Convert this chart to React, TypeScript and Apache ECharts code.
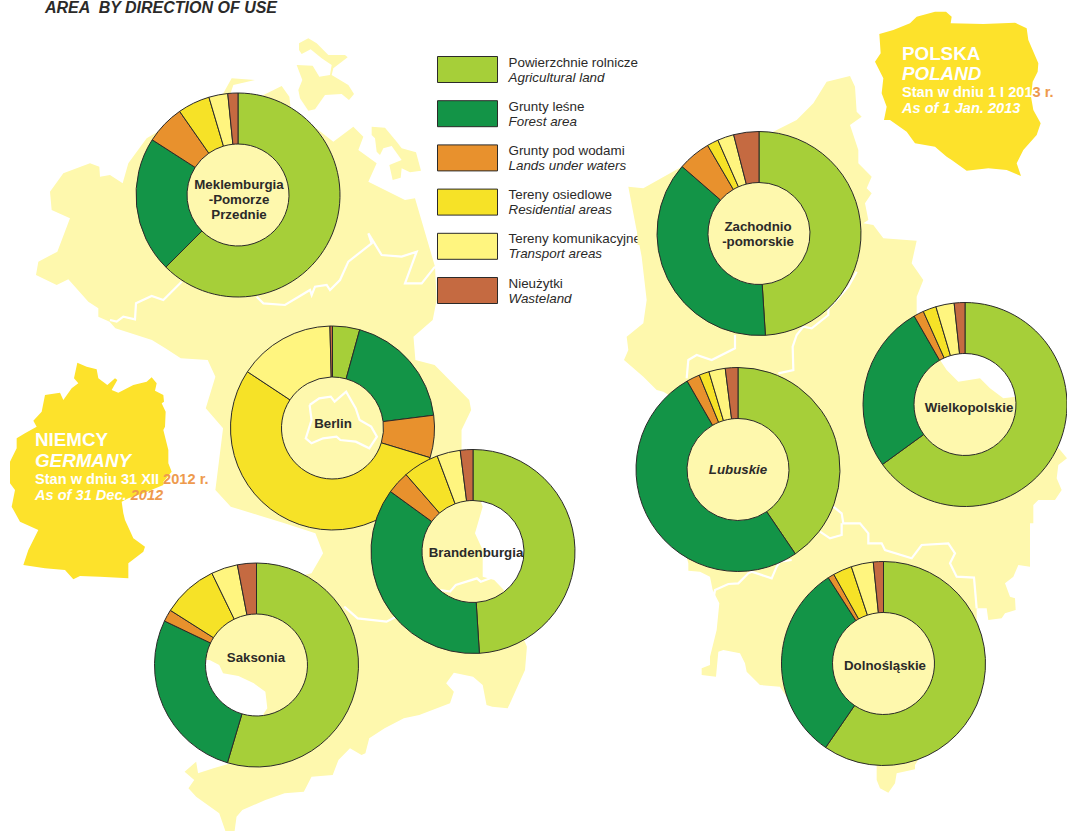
import React, { useEffect, useRef } from "react";
import * as echarts from "echarts";

const categoriesPl = ["Powierzchnie rolnicze", "Grunty leśne", "Grunty pod wodami", "Tereny osiedlowe", "Tereny komunikacyjne", "Nieużytki"];
const categoriesEn = ["Agricultural land", "Forest area", "Lands under waters", "Residential areas", "Transport areas", "Wasteland"];
const colors = ["#A6CF39", "#139447", "#E8912D", "#F6E227", "#FFF57F", "#C56A41"];

const berlin = [4.3, 18.7, 6.7, 54.6, 15.3, 0.4];
const meklemburgia = [62.5, 21.6, 6.2, 5.1, 3.0, 1.6];
const brandenburgia = [49.0, 36.0, 3.6, 5.7, 3.7, 2.0];
const saksonia = [54.6, 27.5, 1.9, 8.8, 4.2, 3.0];
const zachodnio = [49.0, 37.4, 5.2, 1.8, 2.6, 4.0];
const wielkopolskie = [65.0, 26.7, 1.6, 2.1, 2.9, 1.7];
const lubuskie = [40.5, 51.2, 2.1, 1.6, 2.6, 2.0];
const dolnoslaskie = [59.6, 31.3, 1.0, 3.0, 3.5, 1.6];

const z1 = (p: number[][]) => p.map(([x, y]) => [x / 3, y / 3]);
const z2 = (p: number[][]) => p.map(([x, y]) => [x / 2.6, y / 3 + 320]);
const z3 = (p: number[][]) => p.map(([x, y]) => [x / 3 + 600, y / 3]);
const z4 = (p: number[][]) => p.map(([x, y]) => [x / 3 + 600, y / 3 + 400]);
const zDe = (p: number[][]) => p.map(([x, y]) => [x / 3, y / 3 + 350]);
const zPl = (p: number[][]) => p.map(([x, y]) => [x / 3 + 860, y / 3]);
const zIs = (p: number[][]) => p.map(([x, y]) => [x / 3 + 280, y / 3 + 20]);

const eastGermany = [
  ...z1([[108,825],[115,785],[172,755],[210,655],[155,630],[150,575],[190,520],[270,490],[298,500],[300,530],[330,525],[368,550],[385,490],[440,415],[670,280],[695,235],[765,240],[700,255],[690,285],[780,290],[845,258],[868,290],[872,325],[1000,425],[1060,380],[1090,410],[1075,450],[1130,490],[1105,545],[1215,600],[1245,595],[1305,800],[1310,900]]),
  ...z2([[1125,0],[1075,50],[1080,120],[1130,135],[1220,240],[1225,270],[1200,330],[1200,390],[1255,560],[1235,640],[1255,690],[1255,770],[1285,780],[1310,810],[1370,980],[1365,1050],[1320,1165],[1280,1160],[1265,1155],[1255,1095],[1230,1070],[1180,1058],[1160,1090],[1180,1115],[1170,1150],[1090,1185],[1050,1195],[1000,1225],[960,1255],[950,1300],[940,1305],[910,1285],[880,1320],[865,1365],[810,1370],[790,1415],[740,1420],[690,1440],[630,1470],[615,1490],[610,1533],[586,1533],[570,1480],[510,1430],[490,1405],[505,1380],[480,1355],[510,1325],[515,1360],[555,1345],[600,1330],[695,1165],[690,1115],[660,1090],[620,1068],[580,1060],[570,1035],[545,1020],[500,1020],[470,950],[560,830],[700,790],[810,760],[840,700],[820,640],[740,610],[670,585],[600,560],[560,510],[580,325],[535,265],[560,170],[540,120],[470,115],[430,85],[395,60],[300,25],[285,5]]),
  ...z1([[295,950],[295,925],[265,905],[205,838],[170,855]]),
];
const rugen = zIs([[57,70],[85,55],[110,70],[145,105],[195,105],[203,112],[160,145],[155,165],[205,195],[222,222],[207,240],[185,222],[135,225],[105,268],[85,272],[60,235],[55,210],[67,180],[50,135],[98,137],[118,170],[150,165],[155,135],[125,115],[92,88],[65,102],[57,90]]);
const usedom = zIs([[275,320],[315,323],[350,365],[365,385],[408,397],[423,452],[390,457],[365,445],[362,473],[338,480],[328,435],[365,420],[335,378],[310,385],[300,405],[290,395],[285,355],[275,345]]);
const westPoland = [
  ...z3([[245,500],[130,565],[85,560],[100,640],[125,770],[140,900],[130,970],[80,1010],[85,1050],[72,1080],[130,1130],[170,1170],[190,1175],[215,1190],[150,1260]]),
  ...z4([[265,490],[265,512],[300,515],[330,530],[338,570],[358,610],[350,690],[330,770],[330,795],[305,805],[305,825],[348,830],[355,755],[370,750],[420,760],[435,790],[440,815],[480,855],[540,860],[600,950],[830,1095],[830,1140],[840,1165],[865,1178],[885,1150],[890,1120],[945,1108],[945,1095],[1130,800],[1130,625],[1160,625],[1165,660],[1205,655],[1215,640],[1247,630],[1245,595],[1230,590],[1215,550],[1240,530],[1255,495],[1290,500],[1290,370],[1300,370],[1300,315],[1315,300],[1365,300],[1385,270],[1370,235],[1375,195],[1401,175]]),
  ...z3([[1248,1190],[1210,1195],[1170,1165],[1140,1135],[1075,1145],[1040,1110],[1020,1080],[950,940],[950,890],[970,840],[935,790],[950,722],[850,715],[820,675],[790,670],[805,660],[795,610],[815,580],[800,565],[815,530],[775,490],[775,450],[750,375],[785,350],[770,335],[765,260],[750,228],[680,245],[640,310],[590,360],[520,395],[450,500],[300,550]]),
];
const germanySilhouette = zDe([[232,38],[260,50],[290,58],[295,85],[322,105],[345,85],[352,90],[335,120],[355,128],[400,105],[440,95],[455,82],[470,100],[465,122],[490,135],[492,155],[485,160],[497,185],[495,230],[490,240],[505,300],[505,340],[515,365],[490,395],[490,405],[430,430],[385,445],[365,455],[370,490],[375,510],[400,565],[435,590],[430,605],[385,640],[385,685],[300,680],[240,678],[220,688],[195,660],[135,655],[70,645],[85,600],[115,540],[60,515],[35,470],[45,420],[30,400],[30,335],[50,295],[50,265],[75,250],[110,230],[100,212],[125,185],[135,135],[180,128],[190,150],[215,115],[235,100],[222,85]]);
const polandSilhouette = zPl([[58,102],[100,90],[150,70],[170,50],[225,35],[258,35],[275,50],[272,70],[370,72],[465,68],[500,85],[505,120],[535,190],[533,215],[518,245],[513,290],[520,330],[542,370],[530,405],[490,450],[470,490],[483,528],[440,510],[385,505],[320,512],[275,480],[260,470],[225,440],[165,430],[140,395],[90,360],[72,360],[80,320],[65,280],[70,235],[45,185],[62,160]]);

const borders = [
  z1([[330,960],[350,965],[370,950],[405,958],[408,910],[455,888],[490,900],[545,845]]),
  z1([[770,890],[790,910],[855,915],[930,870],[935,885],[945,860],[980,855],[990,870],[1020,840],[1045,785],[1115,730],[1105,700],[1145,765],[1205,770],[1250,755],[1215,850],[1265,850],[1305,800]]),
  z2([[805,255],[830,235],[860,230],[870,245],[900,215],[925,265],[935,300],[965,320],[980,350],[960,385],[925,365],[885,360],[875,350],[840,355],[810,370],[795,355],[810,300],[805,255]]),
  z2([[895,860],[930,895],[1005,905],[1030,890]]),
  z2([[1145,810],[1170,815],[1185,795],[1240,775],[1250,785],[1285,770]]),
  z3([[770,815],[745,860],[710,900],[685,925],[685,945],[635,985],[610,980],[590,1005],[578,1040],[580,1110],[535,1120]]),
  z3([[405,1005],[405,1045],[335,1080],[290,1065],[265,1080],[260,1135]]),
  z4([[700,320],[725,340],[730,370],[780,370],[805,400],[805,430],[845,430],[855,450],[935,475],[965,435],[1045,430],[1065,460],[1050,490],[1070,530],[1122,533],[1130,625]]),
  z4([[660,395],[690,415],[725,405],[725,370]]),
  z4([[575,480],[540,485],[530,500],[515,535],[455,515],[445,520],[415,550],[385,552],[345,570],[340,600]]),
];

const donuts = [
  { name: "Meklemburgia-Pomorze Przednie", values: meklemburgia, c: [238, 195], label: "Meklemburgia\n-Pomorze\nPrzednie", at: [239, 199] },
  { name: "Berlin", values: berlin, c: [332.5, 428], label: "Berlin", at: [333, 423] },
  { name: "Brandenburgia", values: brandenburgia, c: [473, 551.5], label: "Brandenburgia", at: [476, 552] },
  { name: "Saksonia", values: saksonia, c: [256.5, 665], label: "Saksonia", at: [256, 657] },
  { name: "Zachodniopomorskie", values: zachodnio, c: [759, 233.5], label: "Zachodnio\n-pomorskie", at: [758, 234] },
  { name: "Wielkopolskie", values: wielkopolskie, c: [965, 404.5], label: "Wielkopolskie", at: [969, 407] },
  { name: "Lubuskie", values: lubuskie, c: [738, 469.5], label: "Lubuskie", at: [738, 469], italic: true },
  { name: "Dolnośląskie", values: dolnoslaskie, c: [883.5, 663.5], label: "Dolnośląskie", at: [885, 665] },
];

const FONT = "'Liberation Sans', Arial, sans-serif";
const MAP = "#FEF8AD";
const GOLD = "#FDE22B";
const WHITE = "#FFFFFF";
const ORANGE = "#EE9A4D";

function whiteTxt(x: number, y: number, text: string, size: number, italic = false, weight = "bold") {
  return { type: "text", x, y, z: 60, silent: true, style: { text, fill: WHITE, font: `${italic ? "italic " : ""}${weight} ${size}px ${FONT}`, verticalAlign: "middle" } };
}
function richTxt(x: number, y: number, a: string, b: string, size: number, italic = false) {
  const font = { fontFamily: FONT, fontSize: size, fontWeight: "bold", fontStyle: italic ? "italic" : "normal" };
  return {
    type: "text", x, y, z: 60, silent: true,
    style: {
      text: `{a|${a}}{b|${b}}`, verticalAlign: "middle",
      rich: { a: { ...font, fill: WHITE }, b: { ...font, fill: ORANGE } },
    },
  };
}

export default function App() {
  const ref = useRef<HTMLDivElement>(null);
  useEffect(() => {
    const chart = echarts.init(ref.current!, undefined, { renderer: "svg" });
    const graphic: any[] = [
      ...[eastGermany, rugen, usedom, westPoland].map((points) => ({ type: "polygon", z: 0, silent: true, shape: { points }, style: { fill: MAP } })),
      ...borders.map((points) => ({ type: "polyline", z: 1, silent: true, shape: { points }, style: { stroke: WHITE, lineWidth: 2.2, fill: "none" } })),
      ...[germanySilhouette, polandSilhouette].map((points) => ({ type: "polygon", z: 1, silent: true, shape: { points }, style: { fill: GOLD } })),
      { type: "text", x: 45, y: 7, z: 60, silent: true, style: { text: "AREA  BY DIRECTION OF USE", fill: "#2B2A29", font: `italic bold 16px ${FONT}`, verticalAlign: "middle" } },
      whiteTxt(35, 439, "NIEMCY", 18.8),
      whiteTxt(35, 460, "GERMANY", 18.8, true),
      richTxt(35, 479, "Stan w dniu 31 XII ", "2012 r.", 14.6),
      richTxt(35, 495, "As of 31 Dec. ", "2012", 14.6, true),
      whiteTxt(902, 53, "POLSKA", 18.8),
      whiteTxt(902, 73, "POLAND", 18.8, true),
      richTxt(902, 92, "Stan w dniu 1 I 201", "3 r.", 14.6),
      whiteTxt(902, 108, "As of 1 Jan. 2013", 14.6, true),
      { type: "rect", z: 60, silent: true, shape: { x: 637.5, y: 230, width: 5, height: 15 }, style: { fill: MAP } },
      ...donuts.map((d) => ({
        type: "text", x: d.at[0], y: d.at[1], z: 70, silent: true,
        style: { text: d.label, fill: "#2B2A29", align: "center", verticalAlign: "middle", lineHeight: 15, font: `${d.italic ? "italic " : ""}bold 13.3px ${FONT}` },
      })),
    ];
    chart.setOption({
      animation: false,
      backgroundColor: "#FFFFFF",
      graphic: { elements: graphic },
      legend: {
        orient: "vertical", left: 437, top: 55.5, padding: 0, itemWidth: 60, itemHeight: 26, itemGap: 16.2, icon: "rect",
        selectedMode: false, z: 50,
        itemStyle: { borderColor: "#2B2A29", borderWidth: 1 },
        data: categoriesPl,
        formatter: (n: string) => `{a|${n}}\n{b|${categoriesEn[categoriesPl.indexOf(n)]}}`,
        textStyle: {
          padding: [0, 0, 0, 6],
          rich: {
            a: { fontFamily: FONT, fontSize: 13.4, lineHeight: 15, color: "#2B2A29" },
            b: { fontFamily: FONT, fontSize: 13.4, lineHeight: 15, fontStyle: "italic", color: "#2B2A29" },
          },
        },
      },
      series: donuts.map((d, i) => ({
        type: "pie", name: d.name, z: 2 + i, center: d.c, radius: [51, 102], startAngle: 90, clockwise: true,
        silent: true, label: { show: false }, labelLine: { show: false }, emphasis: { disabled: true },
        itemStyle: { borderColor: "#2B2A29", borderWidth: 1 },
        data: d.values.map((value, k) => ({ name: categoriesPl[k], value, itemStyle: { color: colors[k] } })),
      })),
    });
    return () => chart.dispose();
  }, []);
  return <div ref={ref} style={{ position: "fixed", left: 0, top: 0, width: 1067, height: 831 }} />;
}
